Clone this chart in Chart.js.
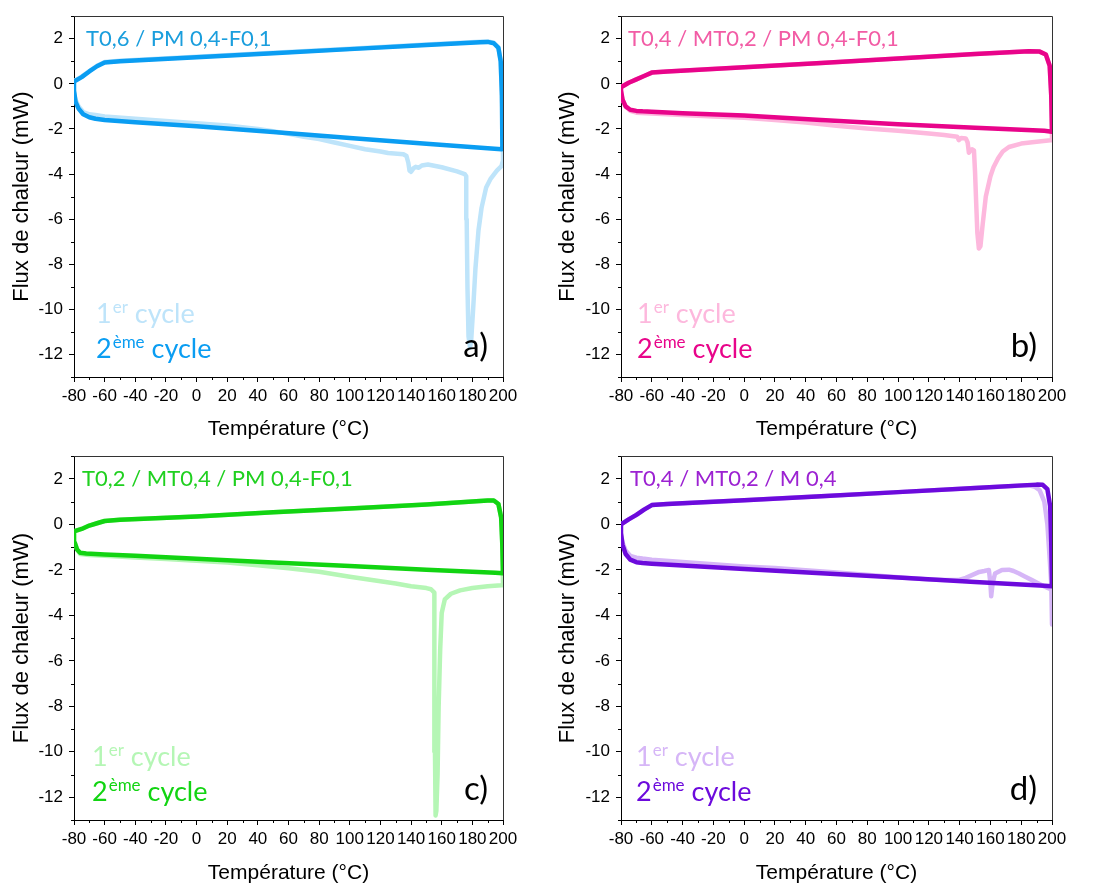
<!DOCTYPE html>
<html>
<head>
<meta charset="utf-8">
<script src="https://cdn.jsdelivr.net/npm/chart.js@4.4.1/dist/chart.umd.min.js"></script>
<style>
  body { margin: 0; background: #fff; }
  #page { position: relative; width: 1093px; height: 884px; background: #fff; }
  #page canvas { position: absolute; }
</style>
</head>
<body>
<div id="page">
  <canvas id="chart-a" width="546" height="440" style="left:0;top:0"></canvas>
  <canvas id="chart-b" width="547" height="440" style="left:546px;top:0"></canvas>
  <canvas id="chart-c" width="546" height="444" style="left:0;top:440px"></canvas>
  <canvas id="chart-d" width="547" height="444" style="left:546px;top:440px"></canvas>
</div>
<script>
// ---- axes ----
const tempMin = -80, tempMax = 200;
const fluxMin = -13, fluxMax = 3;
const xTitle = 'Température (°C)';
const yTitle = 'Flux de chaleur (mW)';

// ---- a) T0,6 / PM 0,4-F0,1 ----
const a_T2 = [-80, -75, -70, -65, -60, -50, 0, 50, 100, 150, 185, 190, 194, 197, 198.5, 199.3, 199.6, 199, 190, 150, 100, 50, 0, -40, -60, -66, -70, -74, -77, -79, -80, -80];
const a_Q2 = [0.1, 0.3, 0.55, 0.78, 0.95, 1.0, 1.18, 1.36, 1.54, 1.72, 1.85, 1.86, 1.8, 1.6, 1.0, -0.5, -2.85, -2.9, -2.86, -2.66, -2.4, -2.14, -1.88, -1.7, -1.6, -1.55, -1.48, -1.35, -1.1, -0.8, -0.3, 0.1];
const a_T1 = [-80, -75, -70, -65, -60, -50, 0, 50, 100, 150, 185, 190, 194, 197, 198.5, 199.5, 200, 199, 196, 192, 189, 186, 184, 182, 180.5, 179.3, 178.5, 177.5, 176.8, 176.3, 176, 175, 170, 160, 151, 147, 145, 143, 141.5, 140, 139, 138.2, 137, 135, 125, 120, 110, 100, 90, 80, 70, 60, 50, 40, 20, 0, -20, -40, -60, -66, -70, -74, -77, -79, -80];
const a_Q1 = [0.12, 0.32, 0.57, 0.8, 0.97, 1.02, 1.2, 1.38, 1.56, 1.74, 1.87, 1.88, 1.82, 1.62, 1.0, -1.0, -3.4, -3.65, -3.85, -4.2, -4.6, -5.5, -6.5, -8.2, -10, -11.3, -11.7, -11.2, -9, -6, -4.1, -4.0, -3.88, -3.7, -3.58, -3.62, -3.72, -3.68, -3.75, -3.9, -3.85, -3.5, -3.2, -3.12, -3.07, -3.0, -2.9, -2.75, -2.6, -2.45, -2.35, -2.22, -2.1, -2.0, -1.85, -1.75, -1.65, -1.55, -1.45, -1.38, -1.35, -1.25, -1.0, -0.7, -0.4];

// ---- b) T0,4 / MT0,2 / PM 0,4-F0,1 ----
const b_T2 = [-80, -75, -70, -65, -60, -50, 0, 50, 100, 150, 185, 192, 196, 198.5, 199.5, 200, 199.8, 195, 150, 100, 50, 0, -40, -60, -66, -70, -74, -77, -79, -80, -80];
const b_Q2 = [-0.15, 0.05, 0.2, 0.35, 0.5, 0.55, 0.74, 0.93, 1.12, 1.32, 1.45, 1.43, 1.3, 0.8, -0.5, -2.1, -2.12, -2.08, -1.95, -1.79, -1.6, -1.4, -1.3, -1.24, -1.22, -1.2, -1.15, -1.0, -0.7, -0.3, -0.15];
const b_T1 = [-80, -75, -70, -65, -60, -50, 0, 50, 100, 150, 185, 192, 196, 198.5, 199.5, 200, 199, 190, 180, 172, 168, 165, 162, 160, 157, 155, 153.5, 152.5, 151.5, 150.7, 150, 149.3, 148, 147, 146, 145.2, 144, 141, 139.5, 138.5, 130, 120, 100, 80, 60, 40, 20, 0, -20, -40, -60, -70, -74, -77, -79, -80];
const b_Q1 = [-0.15, 0.05, 0.2, 0.35, 0.5, 0.55, 0.74, 0.93, 1.12, 1.32, 1.45, 1.43, 1.3, 0.8, -0.5, -2.5, -2.5, -2.57, -2.65, -2.8, -3.0, -3.3, -3.7, -4.1, -5.0, -6.2, -7.2, -7.3, -6.6, -5.2, -3.9, -2.95, -2.9, -2.95, -3.05, -2.6, -2.42, -2.4, -2.5, -2.35, -2.27, -2.2, -2.08, -1.98, -1.86, -1.72, -1.6, -1.5, -1.45, -1.38, -1.32, -1.28, -1.2, -1.0, -0.7, -0.3];

// ---- c) T0,2 / MT0,4 / PM 0,4-F0,1 ----
const c_T2 = [-80, -75, -70, -65, -60, -50, 0, 50, 100, 150, 190, 194, 197, 198.8, 199.5, 200, 199.8, 195, 150, 100, 50, 0, -40, -60, -66, -72, -76, -78, -79.5, -80, -80];
const c_Q2 = [-0.3, -0.2, -0.05, 0.05, 0.15, 0.2, 0.35, 0.53, 0.7, 0.88, 1.05, 1.05, 0.9, 0.3, -0.8, -2.15, -2.15, -2.13, -1.99, -1.83, -1.67, -1.51, -1.38, -1.32, -1.3, -1.28, -1.25, -1.1, -0.8, -0.4, -0.3];
const c_T1 = [-80, -75, -70, -65, -60, -50, 0, 50, 100, 150, 190, 194, 197, 198.8, 199.5, 200, 199, 190, 180, 172, 166, 162, 160, 159, 158, 157.3, 156.5, 156, 155.6, 155.4, 155.2, 155, 153, 150, 140, 130, 120, 100, 80, 60, 40, 20, 0, -20, -40, -60, -70, -76, -78, -79.5, -80];
const c_Q1 = [-0.3, -0.2, -0.05, 0.05, 0.15, 0.2, 0.35, 0.53, 0.7, 0.88, 1.05, 1.05, 0.9, 0.3, -0.8, -2.68, -2.68, -2.72, -2.8, -2.9, -3.05, -3.3, -3.9, -5.5, -8, -11, -12.6, -12.8, -10, -7.7, -4, -3.0, -2.85, -2.8, -2.72, -2.6, -2.5, -2.3, -2.08, -1.93, -1.8, -1.68, -1.6, -1.52, -1.45, -1.38, -1.35, -1.3, -1.1, -0.8, -0.4];

// ---- d) T0,4 / MT0,2 / M 0,4 ----
const d_T2 = [-80, -75, -70, -65, -60, -50, 0, 50, 100, 150, 190, 194, 197, 198.8, 199.5, 200, 199.8, 195, 150, 100, 50, 0, -40, -60, -66, -70, -74, -77, -79, -80, -80];
const d_Q2 = [0.0, 0.22, 0.42, 0.65, 0.85, 0.9, 1.06, 1.24, 1.42, 1.6, 1.75, 1.74, 1.55, 0.8, -0.8, -2.7, -2.72, -2.7, -2.53, -2.34, -2.15, -1.96, -1.81, -1.73, -1.7, -1.66, -1.55, -1.3, -0.9, -0.4, 0.0];
const d_T1 = [-80, -75, -70, -65, -60, -50, 0, 50, 100, 150, 185, 189, 192, 195, 197, 198.5, 199.5, 200, 200, 198, 195.7, 190, 187, 182, 178.6, 175, 172, 167.5, 163, 161.4, 160.5, 160, 159, 156, 152.7, 148, 144, 139, 130, 120, 100, 60, 20, 0, -20, -40, -60, -66, -70, -74, -77, -79, -80];
const d_Q1 = [0.0, 0.22, 0.42, 0.65, 0.85, 0.9, 1.06, 1.24, 1.42, 1.6, 1.72, 1.65, 1.5, 1.0, 0.0, -1.5, -2.6, -4.4, -2.85, -2.82, -2.75, -2.55, -2.45, -2.28, -2.16, -2.05, -1.99, -2.0, -2.16, -2.6, -3.16, -2.6, -2.0, -2.05, -2.09, -2.23, -2.35, -2.45, -2.45, -2.42, -2.32, -2.12, -1.92, -1.85, -1.75, -1.65, -1.55, -1.5, -1.46, -1.38, -1.15, -0.8, -0.4];

const toPoints = (T, Q) => T.map((t, i) => ({ x: t, y: Q[i] }));

// frame (top/right) and short minor ticks
const frameAndTicks = {
    id: 'frameAndTicks',
    beforeDatasetsDraw(chart) {
        const { ctx, chartArea: a, scales } = chart;
        ctx.save();
        ctx.strokeStyle = '#333';
        ctx.lineWidth = 1;
        ctx.beginPath();
        ctx.moveTo(a.left, Math.round(a.top) + 0.5);
        ctx.lineTo(Math.round(a.right) + 0.5, Math.round(a.top) + 0.5);
        ctx.lineTo(Math.round(a.right) + 0.5, a.bottom);
        ctx.stroke();
        ctx.strokeStyle = '#000';
        ctx.beginPath();
        scales.x.ticks.forEach(t => {
            if (t.value % 20 !== 0) {
                const px = Math.round(scales.x.getPixelForValue(t.value)) + 0.5;
                ctx.moveTo(px, a.bottom);
                ctx.lineTo(px, a.bottom + 3);
            }
        });
        scales.y.ticks.forEach(t => {
            if (t.value % 2 !== 0) {
                const py = Math.round(scales.y.getPixelForValue(t.value)) + 0.5;
                ctx.moveTo(a.left, py);
                ctx.lineTo(a.left - 3, py);
            }
        });
        ctx.stroke();
        ctx.restore();
    }
};

function drawSup(ctx, base, sup, rest, x, y, size, color) {
    ctx.fillStyle = color;
    ctx.font = `${size}px Lato`;
    ctx.fillText(base, x, y);
    x += ctx.measureText(base).width + 1;
    ctx.font = `${Math.round(size * 0.62)}px Lato`;
    ctx.fillText(sup, x, y - size * 0.38);
    x += ctx.measureText(sup).width;
    ctx.font = `${size}px Lato`;
    ctx.fillText(rest, x, y);
}

const panelText = {
    id: 'panelText',
    afterDraw(chart, args, o) {
        const { ctx, chartArea: a } = chart;
        ctx.save();
        ctx.textBaseline = 'alphabetic';
        ctx.textAlign = 'left';
        ctx.font = '22px Lato';
        ctx.fillStyle = o.titleColor;
        ctx.fillText(o.title, a.left + o.titleDx, a.top + 30);
        drawSup(ctx, '1', 'er', ' cycle', a.left + o.legendDx, a.bottom - 54, 27, o.light);
        drawSup(ctx, '2', 'ème', ' cycle', a.left + o.legendDx, a.bottom - 19, 27, o.dark);
        ctx.font = '33px Lato';
        ctx.fillStyle = '#000';
        ctx.textAlign = 'right';
        ctx.fillText(o.letter, a.right - 15, a.bottom - 20);
        ctx.restore();
    }
};

const tickFont = { family: '"Liberation Sans", Arial, sans-serif', size: 17 };

function makePanel(id, T1, Q1, T2, Q2, look) {
    new Chart(document.getElementById(id), {
        type: 'scatter',
        data: {
            datasets: [
                { label: '2ème cycle', data: toPoints(T2, Q2), borderColor: look.dark, order: 0 },
                { label: '1er cycle', data: toPoints(T1, Q1), borderColor: look.light, order: 1 }
            ]
        },
        options: {
            responsive: false,
            animation: false,
            events: [],
            showLine: true,
            elements: {
                point: { radius: 0 },
                line: { borderWidth: 4.5, tension: 0, borderJoinStyle: 'round', borderCapStyle: 'round' }
            },
            layout: { padding: { top: look.padTop, right: look.padRight, left: 0, bottom: 0 } },
            scales: {
                x: {
                    type: 'linear', min: tempMin, max: tempMax,
                    afterFit: s => { s.height = look.xHeight; },
                    ticks: {
                        stepSize: 10, autoSkip: false, maxRotation: 0, padding: 4,
                        color: '#000', font: tickFont,
                        callback: v => (v % 20 === 0 ? v : '')
                    },
                    grid: {
                        drawOnChartArea: false, tickLength: 5,
                        tickColor: c => (c.tick && c.tick.value % 20 === 0 ? '#000' : 'rgba(0,0,0,0)')
                    },
                    border: { display: true, color: '#000', width: 1 },
                    title: {
                        display: true, text: xTitle, color: '#000',
                        font: { family: '"Liberation Sans", Arial, sans-serif', size: 21, lineHeight: 1 },
                        padding: { top: 0, bottom: look.xTitlePad }
                    }
                },
                y: {
                    min: fluxMin, max: fluxMax,
                    afterFit: s => { s.width = look.yWidth; },
                    ticks: {
                        stepSize: 1, autoSkip: false, padding: 6,
                        color: '#000', font: tickFont,
                        callback: v => (v % 2 === 0 ? v : '')
                    },
                    grid: {
                        drawOnChartArea: false, tickLength: 5,
                        tickColor: c => (c.tick && c.tick.value % 2 === 0 ? '#000' : 'rgba(0,0,0,0)')
                    },
                    border: { display: true, color: '#000', width: 1 },
                    title: {
                        display: true, text: yTitle, color: '#000',
                        font: { family: '"Liberation Sans", Arial, sans-serif', size: 22, lineHeight: 1 },
                        padding: { top: 11, bottom: 0 }
                    }
                }
            },
            plugins: {
                legend: { display: false },
                tooltip: { enabled: false },
                panelText: look
            }
        },
        plugins: [frameAndTicks, panelText]
    });
}

makePanel('chart-a', a_T1, a_Q1, a_T2, a_Q2, {
    dark: '#0A9DF2', light: '#BEE4FA', titleColor: '#1A9EDD',
    title: 'T0,6 / PM 0,4-F0,1', letter: 'a)', titleDx: 12, legendDx: 22,
    yWidth: 74, xHeight: 63, padTop: 14, padRight: 43, xTitlePad: 0
});
makePanel('chart-b', b_T1, b_Q1, b_T2, b_Q2, {
    dark: '#E8048A', light: '#FDB8DD', titleColor: '#F25CA5',
    title: 'T0,4 / MT0,2 / PM 0,4-F0,1', letter: 'b)', titleDx: 7, legendDx: 16,
    yWidth: 75, xHeight: 63, padTop: 14, padRight: 41, xTitlePad: 0
});
makePanel('chart-c', c_T1, c_Q1, c_T2, c_Q2, {
    dark: '#12D412', light: '#B5F6B5', titleColor: '#20D020',
    title: 'T0,2 / MT0,4 / PM 0,4-F0,1', letter: 'c)', titleDx: 8, legendDx: 18,
    yWidth: 74, xHeight: 64, padTop: 16, padRight: 43, xTitlePad: 0
});
makePanel('chart-d', d_T1, d_Q1, d_T2, d_Q2, {
    dark: '#6C0ADC', light: '#D6B6F7', titleColor: '#9C22D2',
    title: 'T0,4 / MT0,2 / M 0,4', letter: 'd)', titleDx: 9, legendDx: 15,
    yWidth: 75, xHeight: 64, padTop: 16, padRight: 41, xTitlePad: 0
});
</script>
</body>
</html>
